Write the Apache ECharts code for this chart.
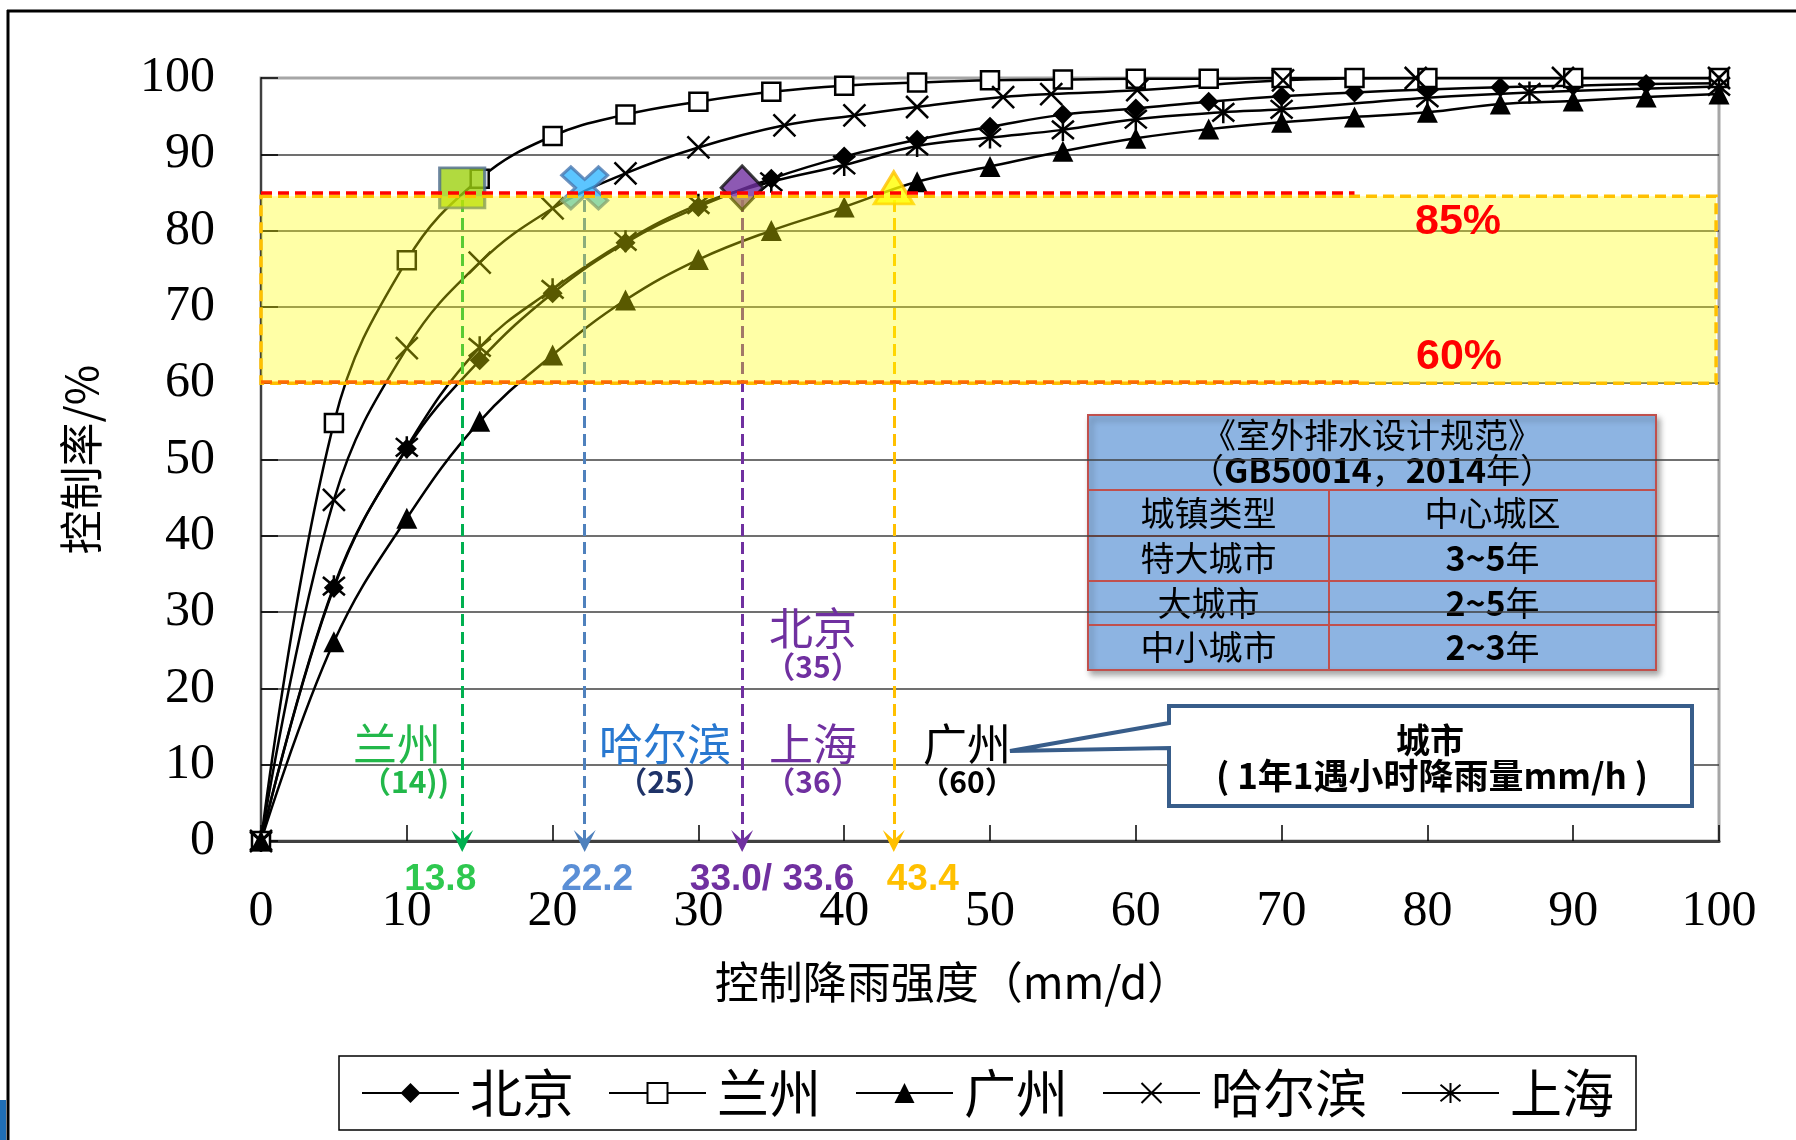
<!DOCTYPE html>
<html><head><meta charset="utf-8">
<script src="https://cdn.jsdelivr.net/npm/echarts@6/dist/echarts.min.js"></script>
<style>html,body{margin:0;padding:0;background:#fff;}#c{width:1796px;height:1140px;}</style>
</head><body><div id="c"></div>
<script>
// ---------- data ----------
const seriesNames = ['北京', '兰州', '广州', '哈尔滨', '上海'];
const beijingX = [0,5,10,15,20,25,30,35,40,45,50,55,60,65,70,75,80,85,90,95,100];
const beijingY = [0,33.2,51.4,63.0,71.8,78.4,83.1,86.8,89.7,91.9,93.6,95.2,96.0,96.9,97.6,98.1,98.5,98.8,99.0,99.2,99.3];
const lanzhouX = [0,5,10,15,20,25,30,35,40,45,50,55,60,65,70,75,80,90,100];
const lanzhouY = [0,54.8,76.1,86.8,92.4,95.2,96.9,98.2,99.0,99.4,99.7,99.8,99.9,99.9,100,100,100,100,100];
const guangzhouX = [0,5,10,15,20,25,30,35,40,45,50,55,60,65,70,75,80,85,90,95,100];
const guangzhouY = [0,26.1,42.3,55.0,63.7,70.9,76.2,80.0,83.1,86.4,88.4,90.4,92.1,93.3,94.2,94.9,95.5,96.6,97.0,97.5,97.9];
const harbinX = [0,5,10,15,20,25,30,35.9,40.7,45,50.9,54.2,60.1,70.1,79.2,89.3,100];
const harbinY = [0,44.7,64.6,75.8,82.9,87.5,90.9,93.8,95.1,96.2,97.5,97.9,98.4,99.7,100,100,100];
const shanghaiX = [0,5,10,15,20,25,30,35,40,45,50,55,60,66,70,80,87,100];
const shanghaiY = [0,33.4,51.6,64.7,72.3,78.6,83.4,86.4,88.6,91.1,92.2,93.2,94.6,95.5,95.9,97.4,98.1,98.9];

const xTicks = [0,10,20,30,40,50,60,70,80,90,100];
const yTicks = [0,10,20,30,40,50,60,70,80,90,100];

const controlRates = [60, 85];           // band limits (%)
const refLineEndX = [75.3, 75];          // extent of 60% / 85% reference lines
const thresholdX = [13.8, 22.2, 33.0, 43.4];
const thresholdY = [85.6, 85.6, 85.6, 85.6];
const thresholdText = ['13.8', '22.2', '33.0/ 33.6', '43.4'];

const cityNames = ['兰州', '哈尔滨', '上海', '北京', '广州'];
const cityRain = ['（14))', '（25）', '（36）', '（35）', '（60）'];

const tableTitle = ['《室外排水设计规范》', '（{b|GB50014}，{b|2014}年）'];
const tableRows = [['城镇类型', '中心城区'], ['特大城市', '{b|3~5}年'], ['大城市', '{b|2~5}年'], ['中小城市', '{b|2~3}年']];
const calloutText = ['城市', '( 1年1遇小时降雨量mm/h )'];

// ---------- styles ----------
const CJK = '"Noto Sans CJK SC", sans-serif';
const SERIF = '"Liberation Serif", "Times New Roman", serif';
const SANS = '"Liberation Sans", Arial, sans-serif';
const crossPath = 'path://M2,0 L5,3 L8,0 L10,2 L7,5 L10,8 L8,10 L5,7 L2,10 L0,8 L3,5 L0,2 Z';
const xPath = 'path://M0,0 L10,10 M10,0 L0,10';
const starPath = 'path://M0,0 L10,10 M10,0 L0,10 M5,-1 L5,11';
const arrowPath = 'path://M10,0 L20,20 L10,11 L0,20 Z';

const pairs = (xs, ys) => xs.map((x, i) => [x, ys[i]]);

function lineSeries(name, xs, ys, symbol, size, itemStyle) {
  return {
    type: 'line', name, data: pairs(xs, ys), z: 2,
    smooth: 0.4, symbol, symbolSize: size, showAllSymbol: true,
    lineStyle: { color: '#000', width: 2.5 },
    itemStyle, emphasis: { disabled: true }, silent: true
  };
}

const thrLineColors = ['#00B050', '#4F81BD', '#7030A0', '#FFC000'];
const thrLabelColors = ['#2EC84F', '#5B8FD6', '#7030A0', '#FFC000'];
const thrPad = [[0, 44, 0, 0], [0, 0, 0, 25], [0, 0, 0, 60], [0, 0, 0, 58]];
const markSymbols = [
  { symbol: 'rect', symbolSize: [45, 40], itemStyle: { color: '#9ED10F', borderColor: '#4D6B8D', borderWidth: 3 } },
  { symbol: crossPath, symbolSize: [46, 42], itemStyle: { color: '#33B7FF', borderColor: '#4A78B0', borderWidth: 3 } },
  { symbol: 'diamond', symbolSize: [42, 44], itemStyle: { color: '#7030A0', borderColor: '#111', borderWidth: 3 } },
  { symbol: 'triangle', symbolSize: [39, 32], itemStyle: { color: '#FFFF00', borderColor: '#FFC000', borderWidth: 3 } }
];

const gridColors = yTicks.map((v, i) => i === yTicks.length - 1 ? '#A6A6A6' : '#404040');

const cityPos = [[397, 744, 405, 782], [665, 744, 665, 782], [813, 744, 813, 782], [813, 628, 813, 667], [967, 744, 967, 782]];
const cityColors = [['#22B84A', '#22B84A'], ['#2878D0', '#1F3368'], ['#7030A0', '#7030A0'], ['#7030A0', '#7030A0'], ['#000', '#000']];

const T = { x0: 1088, x1: 1656, xm: 1329, rows: [415, 490, 536, 581, 625, 670] };
const tableEls = [
  { type: 'rect', shape: { x: T.x0, y: T.rows[0], width: T.x1 - T.x0, height: T.rows[5] - T.rows[0] },
    style: { fill: '#8DB4E2', stroke: '#C0504D', lineWidth: 2, shadowBlur: 6, shadowOffsetX: 3, shadowOffsetY: 4, shadowColor: 'rgba(0,0,0,0.35)' } }
];
for (let i = 1; i < 5; i++) tableEls.push({ type: 'line', shape: { x1: T.x0, y1: T.rows[i], x2: T.x1, y2: T.rows[i] }, style: { stroke: '#C0504D', lineWidth: 2 } });
tableEls.push({ type: 'line', shape: { x1: T.xm, y1: T.rows[1], x2: T.xm, y2: T.rows[5] }, style: { stroke: '#C0504D', lineWidth: 2 } });
const richB = (fs) => ({ b: { fontWeight: 'bold', fontSize: fs, fontFamily: CJK, fill: '#000' } });
tableEls.push({ type: 'text', style: { text: tableTitle[0], x: (T.x0 + T.x1) / 2, y: 435, align: 'center', verticalAlign: 'middle', font: '34px ' + CJK, fill: '#000' } });
tableEls.push({ type: 'text', style: { text: tableTitle[1], x: (T.x0 + T.x1) / 2, y: 470, align: 'center', verticalAlign: 'middle', font: '34px ' + CJK, fill: '#000', rich: richB(34) } });
tableRows.forEach((r, i) => {
  const yc = (T.rows[i + 1] + T.rows[i + 2]) / 2;
  tableEls.push({ type: 'text', style: { text: r[0], x: (T.x0 + T.xm) / 2, y: yc, align: 'center', verticalAlign: 'middle', font: '34px ' + CJK, fill: '#000' } });
  tableEls.push({ type: 'text', style: { text: r[1], x: (T.xm + T.x1) / 2, y: yc, align: 'center', verticalAlign: 'middle', font: '34px ' + CJK, fill: '#000', rich: richB(34) } });
});

const graphics = [
  { type: 'line', shape: { x1: 7, y1: 11, x2: 1796, y2: 11 }, style: { stroke: '#000', lineWidth: 3 }, z: 10 },
  { type: 'line', shape: { x1: 8, y1: 10, x2: 8, y2: 1140 }, style: { stroke: '#000', lineWidth: 3 }, z: 10 },
  { type: 'rect', shape: { x: 0, y: 1100, width: 6, height: 40 }, style: { fill: '#1F6EB5' }, z: 10 },
  { type: 'group', z: 10, children: tableEls },
  { type: 'polygon', z: 10, shape: { points: [[1169, 706], [1692, 706], [1692, 806], [1169, 806], [1169, 748], [1010, 751], [1169, 723]] },
    style: { fill: '#fff', stroke: '#385D8A', lineWidth: 4 } },
  { type: 'text', z: 11, style: { text: calloutText[0], x: 1430, y: 740, align: 'center', verticalAlign: 'middle', font: 'bold 34px ' + CJK, fill: '#000' } },
  { type: 'text', z: 11, style: { text: calloutText[1], x: 1432, y: 776, align: 'center', verticalAlign: 'middle', font: 'bold 35px ' + CJK, fill: '#000' } },
  { type: 'text', z: 11, style: { text: controlRates[1] + '%', x: 1458, y: 222, align: 'center', verticalAlign: 'middle', font: 'bold 43px ' + SANS, fill: '#FF0000' } },
  { type: 'text', z: 11, style: { text: controlRates[0] + '%', x: 1459, y: 357, align: 'center', verticalAlign: 'middle', font: 'bold 43px ' + SANS, fill: '#FF0000' } }
];
cityNames.forEach((n, i) => {
  const p = cityPos[i];
  graphics.push({ type: 'text', z: 11, style: { text: n, x: p[0], y: p[1], align: 'center', verticalAlign: 'middle', font: '44px ' + CJK, fill: cityColors[i][0] } });
  graphics.push({ type: 'text', z: 11, style: { text: cityRain[i], x: p[2], y: p[3], align: 'center', verticalAlign: 'middle', font: 'bold 30px ' + CJK, fill: cityColors[i][1] } });
});

const option = {
  animation: false,
  backgroundColor: '#fff',
  grid: { left: 261, right: 77, top: 78, bottom: 299, show: true, borderColor: '#A6A6A6', borderWidth: 3, outerBoundsMode: 'none' },
  legend: {
    data: seriesNames, left: 339, top: 1056, orient: 'horizontal',
    itemWidth: 97, itemHeight: 25, itemGap: 34, padding: [9, 22, 9, 22],
    borderColor: '#000', borderWidth: 1.5, selectedMode: false,
    textStyle: { fontFamily: CJK, fontSize: 52, color: '#000', padding: [0, 0, 0, 6], lineHeight: 56 }
  },
  xAxis: {
    type: 'value', min: xTicks[0], max: xTicks[xTicks.length - 1], interval: xTicks[1] - xTicks[0],
    name: '控制降雨强度（mm/d）', nameLocation: 'middle', nameGap: 119,
    nameTextStyle: { fontFamily: CJK, fontSize: 44, color: '#000', padding: [0, 74, 0, 0] },
    axisLine: { show: true, lineStyle: { color: '#404040', width: 3 } },
    axisTick: { show: true, inside: true, length: 16, lineStyle: { color: '#000', width: 1.5 } },
    axisLabel: { fontFamily: SERIF, fontSize: 50, color: '#000', margin: 46, showMinLabel: true, showMaxLabel: true },
    splitLine: { show: false }
  },
  yAxis: {
    type: 'value', min: yTicks[0], max: yTicks[yTicks.length - 1], interval: yTicks[1] - yTicks[0],
    name: '控制率/%', nameLocation: 'middle', nameGap: 158, nameRotate: 90,
    nameTextStyle: { fontFamily: CJK, fontSize: 44, color: '#000' },
    axisLine: { show: true, lineStyle: { color: '#404040', width: 2 } },
    axisTick: { show: true, inside: true, length: 17, lineStyle: { color: '#000', width: 1.5 } },
    axisLabel: { fontFamily: SERIF, fontSize: 50, color: '#000', margin: 46, showMinLabel: true, showMaxLabel: true },
    splitLine: { show: true, lineStyle: { color: gridColors, width: 1.5 } }
  },
  graphic: graphics,
  series: [
    lineSeries(seriesNames[0], beijingX, beijingY, 'diamond', 20, { color: '#000' }),
    lineSeries(seriesNames[1], lanzhouX, lanzhouY, 'rect', 18, { color: '#fff', borderColor: '#000', borderWidth: 2.5 }),
    lineSeries(seriesNames[2], guangzhouX, guangzhouY, 'triangle', 21, { color: '#000' }),
    lineSeries(seriesNames[3], harbinX, harbinY, xPath, 22, { color: '#000', borderColor: '#000', borderWidth: 2.5 }),
    lineSeries(seriesNames[4], shanghaiX, shanghaiY, starPath, 22, { color: '#000', borderColor: '#000', borderWidth: 2.5 }),
    {
      type: 'scatter', name: 'marks', z: 3, silent: true,
      data: thresholdX.map((x, i) => Object.assign({ value: [x, thresholdY[i]] }, markSymbols[i])),
      markLine: {
        z: 3, silent: true, symbol: ['none', arrowPath], symbolSize: [22, 22], animation: false,
        data: thresholdX.map((x, i) => [
          { coord: [x, controlRates[1] - 1], lineStyle: { color: thrLineColors[i], width: 3, type: [12, 6] },
            label: { show: true, position: 'end', distance: 20, formatter: thresholdText[i], color: thrLabelColors[i],
                     fontFamily: SANS, fontWeight: 'bold', fontSize: 37, padding: thrPad[i] } },
          { coord: [x, 0] }
        ])
      }
    },
    {
      type: 'custom', name: 'band', z: 4, silent: true,
      data: [[xTicks[0], 99.8, controlRates[0], controlRates[1] - 0.5]],
      encode: { x: [0, 1], y: [2, 3] },
      renderItem: function (params, api) {
        const a = api.coord([api.value(0), api.value(3)]);
        const b = api.coord([api.value(1), api.value(2)]);
        return { type: 'rect', shape: { x: a[0], y: a[1], width: b[0] - a[0], height: b[1] - a[1] },
                 style: { fill: 'rgba(255,255,0,0.35)', stroke: '#FFC000', lineWidth: 3.5, lineDash: [11, 6] } };
      },
      markLine: {
        z: 6, silent: true, symbol: ['none', 'none'], label: { show: false }, animation: false,
        data: [
          [{ coord: [0, controlRates[1]], lineStyle: { color: '#FF0000', width: 3.5, type: [11, 6] } }, { coord: [refLineEndX[1], controlRates[1]] }],
          [{ coord: [0, controlRates[0] + 0.25], lineStyle: { color: '#FF6A00', width: 3.5, type: [11, 6] } }, { coord: [refLineEndX[0], controlRates[0] + 0.25] }]
        ]
      }
    }
  ]
};
const chart = echarts.init(document.getElementById('c'));
chart.setOption(option);
</script>
</body></html>
